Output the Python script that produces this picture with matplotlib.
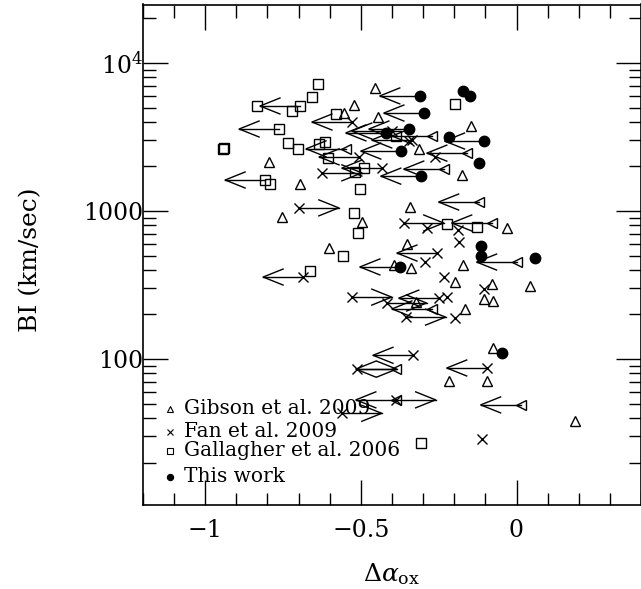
import matplotlib
matplotlib.use('Agg')
import matplotlib.pyplot as plt
import matplotlib.ticker as ticker
from matplotlib import rcParams
import numpy as np

rcParams.update({'font.family': 'DejaVu Serif', 'mathtext.fontset': 'dejavuserif'})

# Gibson et al. 2009 (detections)
gib_dao = [-0.455, -0.522, -0.554, -0.446, -0.147, -0.314, -0.176, -0.795, -0.696, -0.753,
           -0.343, -0.497, -0.603, -0.032, -0.353, -0.394, -0.340, -0.173, -0.199, -0.080,
           0.042, -0.103, -0.077, -0.167, -0.324, -0.074, -0.218, -0.096, 0.189]
gib_bi = [6780, 5200, 4590, 4320, 3750, 2630, 1750, 2140, 1520, 910,
          1060, 843, 562, 767, 598, 432, 412, 432, 331, 321,
          311, 254, 247, 218, 243, 119, 71, 71, 38]
# Gibson et al. 2009 (upper limits on dalpha_ox)
gib_ul_dao = [-0.548, -0.272, -0.160, -0.234, -0.122, -0.080, 0.0, -0.272, -0.388, -0.388, 0.013]
gib_ul_bi = [2630, 3210, 2460, 1920, 1150, 830, 452, 218, 85.5, 53, 49]

# Fan et al. 2009, direction: 0 none, -1 upper limit, +1 lower limit
fan_dao = [-0.346, -0.263, -0.288, -0.189, -0.186, -0.295, -0.234, -0.103, -0.224, -0.196, -0.112,
           -0.529, -0.401, -0.337, -0.506, -0.433, -0.256, -0.686, -0.250, -0.333, -0.096,
           -0.625, -0.699, -0.362, -0.529, -0.417, -0.356, -0.513, -0.388, -0.561]
fan_bi = [2970, 2320, 767, 745, 618, 452, 358, 297, 262, 189, 29,
          3990, 3470, 3020, 2320, 1950, 520, 358, 258, 106, 87,
          1810, 1050, 830, 262, 239, 192, 85.5, 53, 43]
fan_dir = [0] * 11 + [-1] * 10 + [1] * 9

# Gallagher et al. 2006
gal_dao = [-0.638, -0.657, -0.833, -0.721, -0.580, -0.199, -0.388, -0.942, -0.939, -0.734,
           -0.702, -0.635, -0.615, -0.606, -0.490, -0.519, -0.792, -0.503, -0.522, -0.510,
           -0.558, -0.663, -0.224, -0.128, -0.308,
           -0.696, -0.763, -0.808]
gal_bi = [7210, 5890, 5120, 4740, 4520, 5280, 3210, 2630, 2660, 2880,
          2630, 2840, 2930, 2280, 1950, 1840, 1520, 1410, 970, 710,
          496, 393, 817, 780, 27,
          5120, 3580, 1620]
gal_dir = [0] * 25 + [-1] * 3

# This work
tw_dao = [-0.311, -0.173, -0.151, -0.298, -0.346, -0.420, -0.218, -0.103, -0.372, -0.122,
          -0.308, -0.115, -0.115, 0.058, -0.375, -0.045]
tw_bi = [5990, 6470, 5990, 4590, 3580, 3370, 3160, 2970, 2540, 2110,
         1720, 580, 496, 481, 419, 110]
tw_dir = [-1, 0, 0, -1, -1, -1, 0, -1, -1, 0, -1, 0, 0, 0, -1, 0]

ARROW_LEN = 0.128
HEAD_LEN = 0.064
HEAD_FAC = 10 ** 0.054


def draw_arrows(ax, xs, ys, dirs):
    for x, y, d in zip(xs, ys, dirs):
        if d == 0:
            continue
        tip = x + d * ARROW_LEN
        back = tip - d * HEAD_LEN
        ax.plot([x, tip], [y, y], color='k', lw=1.0, zorder=2)
        ax.plot([back, tip, back], [y * HEAD_FAC, y, y / HEAD_FAC], color='k', lw=1.0, zorder=2)


def plot():
    fig = plt.figure(figsize=(6.41, 5.89), dpi=100)
    ax = fig.add_axes([143 / 641, 84 / 589, 498 / 641, 500.5 / 589])

    draw_arrows(ax, gib_ul_dao, gib_ul_bi, [-1] * len(gib_ul_dao))
    draw_arrows(ax, fan_dao, fan_bi, fan_dir)
    draw_arrows(ax, gal_dao, gal_bi, gal_dir)
    draw_arrows(ax, tw_dao, tw_bi, tw_dir)

    mk = dict(linestyle='none', color='k', mew=1.0, zorder=3)
    ax.plot(gib_dao, gib_bi, marker='^', ms=7, mfc='none', **mk)
    ax.plot(gib_ul_dao, gib_ul_bi, marker='<', ms=7, mfc='none', **mk)
    ax.plot(fan_dao, fan_bi, marker='x', ms=6.5, **mk)
    ax.plot(gal_dao, gal_bi, marker='s', ms=6.5, mfc='none', **mk)
    ax.plot(tw_dao, tw_bi, marker='o', ms=7.5, mfc='k', **mk)

    ax.set_yscale('log')
    ax.set_xlim(-1.2, 0.4)
    ax.set_ylim(10 ** 1.014, 10 ** 4.395)

    ax.xaxis.set_major_locator(ticker.FixedLocator([-1, -0.5, 0]))
    ax.xaxis.set_major_formatter(ticker.FixedFormatter(['\u22121', '\u22120.5', '0']))
    ax.xaxis.set_minor_locator(ticker.MultipleLocator(0.1))
    ax.yaxis.set_major_locator(ticker.FixedLocator([100, 1000, 10000]))
    ax.yaxis.set_major_formatter(ticker.FixedFormatter(['100', '1000', '$10^4$']))
    ax.yaxis.set_minor_locator(ticker.LogLocator(base=10, subs=np.arange(2, 10), numticks=20))
    ax.yaxis.set_minor_formatter(ticker.NullFormatter())

    ax.tick_params(which='both', direction='in', top=True, right=True, width=1.0, labelsize=17)
    ax.tick_params(which='major', length=18)
    ax.tick_params(which='minor', length=9)
    ax.tick_params(axis='x', pad=10)
    ax.tick_params(axis='y', pad=0)
    for s in ax.spines.values():
        s.set_linewidth(1.2)

    ax.set_xlabel(r'$\Delta\alpha_{\rm ox}$', fontsize=18, labelpad=14)
    ax.set_ylabel('BI (km/sec)', fontsize=18)
    ax.yaxis.set_label_coords(-0.203, 0.49)

    # legend
    leg_rows = [('^', 'Gibson et al. 2009', 0.192), ('x', 'Fan et al. 2009', 0.146),
                ('s', 'Gallagher et al. 2006', 0.108), ('o', 'This work', 0.056)]
    for m, label, yy in leg_rows:
        fill = 'k' if m == 'o' else 'none'
        ax.plot([0.054], [yy], transform=ax.transAxes, marker=m, ms=4.5, mfc=fill,
                color='k', mew=0.8, linestyle='none', zorder=4)
        ax.text(0.082, yy, label, transform=ax.transAxes, fontsize=14.5, va='center', ha='left')

    plt.savefig('out.png', dpi=100)


def main():
    plot()


if __name__ == '__main__':
    main()
